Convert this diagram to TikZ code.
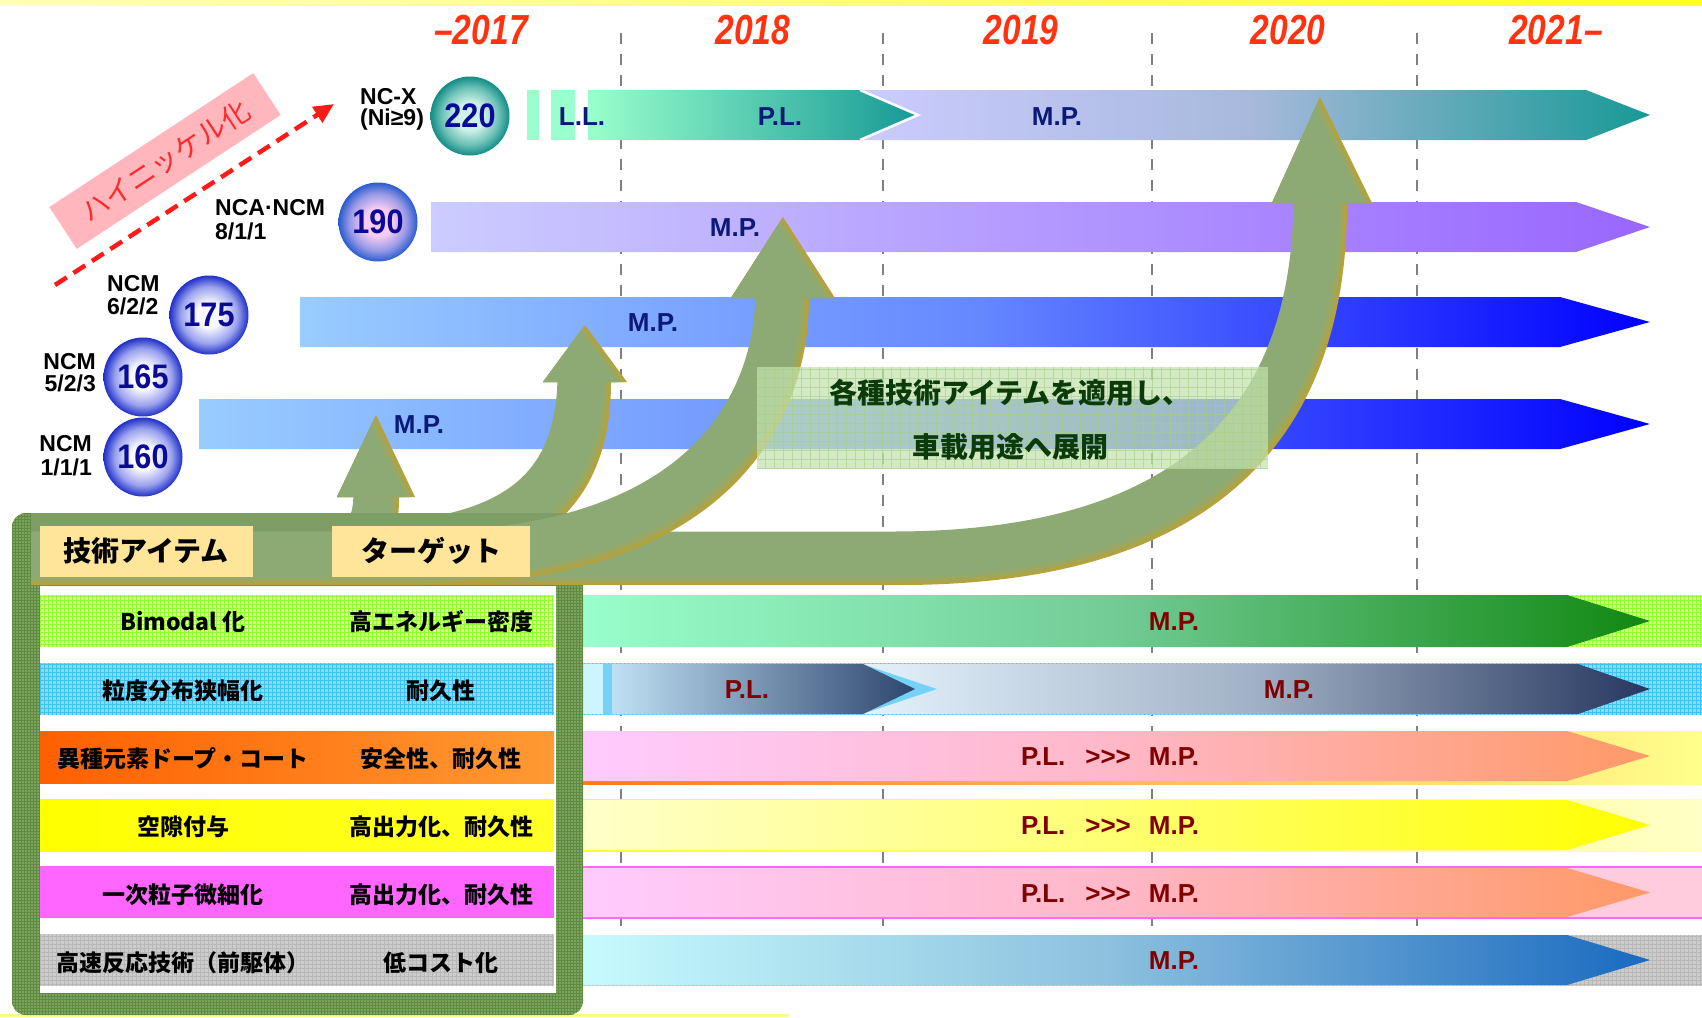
\documentclass[tikz,border=0pt]{standalone}
\usepackage{graphicx}
\usepackage{fontspec}
\setmainfont{Liberation Sans}
\newfontfamily\jp{Noto Sans CJK JP}
\usetikzlibrary{arrows.meta}

\definecolor{olv}{HTML}{8EAA74}
\definecolor{olvA}{HTML}{96A968}
\definecolor{olvB}{HTML}{A3A656}
\definecolor{gld}{HTML}{B4A23C}
\definecolor{frm}{HTML}{7DA35E}
\definecolor{frmline}{HTML}{5F8A42}
\definecolor{band}{HTML}{7E9E66}
\definecolor{tanbox}{HTML}{FFE59A}
\definecolor{yearred}{HTML}{FF3311}
\definecolor{navy}{HTML}{0B1A78}
\definecolor{numblue}{HTML}{0A0A96}
\definecolor{darkred}{HTML}{800000}
\definecolor{dashgray}{HTML}{808080}
\definecolor{mint}{HTML}{99FFCC}
\definecolor{lav}{HTML}{CCCCFF}
\definecolor{tealR}{HTML}{179996}
\definecolor{rA}{HTML}{A8B9DC}
\definecolor{purp}{HTML}{9966FF}
\definecolor{lblue}{HTML}{99CCFF}
\definecolor{mblue}{HTML}{6688FF}
\definecolor{dblue}{HTML}{0000FF}
\definecolor{pinkband}{HTML}{FFB6BC}
\definecolor{bandred}{HTML}{FF2B2B}
\definecolor{dashred}{HTML}{FF1A1A}
\definecolor{boxgreen}{HTML}{C3E2AE}
\definecolor{boxline}{HTML}{A5CE86}
\definecolor{boxtext}{HTML}{0B3B0B}
\definecolor{bL}{HTML}{E6F4FE}
\definecolor{bM}{HTML}{A2B2C6}
\definecolor{bR}{HTML}{27375F}
\definecolor{bPL}{HTML}{C8E2F4}
\definecolor{fL}{HTML}{C8FCFE}
\definecolor{fM}{HTML}{8CC0DE}
\definecolor{fR}{HTML}{1A6AC0}
\definecolor{aR}{HTML}{118811}
\definecolor{aM}{HTML}{72CC96}
\definecolor{pkL}{HTML}{FFCCFF}
\definecolor{pkM}{HTML}{FFB8C8}
\definecolor{pkR}{HTML}{FF9966}
\definecolor{magrow}{HTML}{FF66FF}
\definecolor{pkstrip}{HTML}{FFCCDD}
\definecolor{s220i}{HTML}{CDF0E8}
\definecolor{s220m}{HTML}{6EC2B8}
\definecolor{s220o}{HTML}{138C85}
\definecolor{s190i}{HTML}{F6CCF4}
\definecolor{s190m}{HTML}{9A9AE6}
\definecolor{s190o}{HTML}{2A5CCF}
\definecolor{sbi}{HTML}{F8F8FF}
\definecolor{sbm}{HTML}{9AA2EE}
\definecolor{sbo}{HTML}{2030C8}

\pgfdeclareradialshading{sph220}{\pgfpoint{0bp}{0bp}}{color(0bp)=(s220i); color(9bp)=(s220i); color(18bp)=(s220m); color(25bp)=(s220o); color(50bp)=(s220o)}
\pgfdeclareradialshading{sph190}{\pgfpoint{0bp}{0bp}}{color(0bp)=(s190i); color(9bp)=(s190i); color(18bp)=(s190m); color(25bp)=(s190o); color(50bp)=(s190o)}
\pgfdeclareradialshading{sphB}{\pgfpoint{0bp}{0bp}}{color(0bp)=(sbi); color(8bp)=(sbi); color(18bp)=(sbm); color(25bp)=(sbo); color(50bp)=(sbo)}

\newcommand\fs[1]{\fontsize{#1}{#1}\selectfont}
\newcommand\barrow[6]{\path[#1] (#2,#3) -- (#4,#3) -- (#6,{(#3+#5)/2}) -- (#4,#5) -- (#2,#5) -- cycle;}
\newcommand\gridrect[7]{\fill[#1] (#4,#5) rectangle (#6,#7);
  \begin{scope}\clip (#4,#5) rectangle (#6,#7);
  \draw[#2, line width=0.5pt, step=#3] (#4,#7) grid (#6,#5);\end{scope}}
\newcommand\shaft[2]{%
  \draw[line width=#1, gld] #2;
  \draw[line width=#1, olvB, shift={(-2.5,-2.5)}] #2;
  \draw[line width=#1, olvA, shift={(-5,-5)}] #2;
  \draw[line width=#1, olv, shift={(-7.5,-7.5)}] #2;}
\newcommand\ahead[3]{%
  \fill[gld] (#1) -- (#2) -- (#3) -- cycle;
  \begin{scope}
  \clip (#1) -- (#2) -- (#3) -- cycle;
  \fill[olvB, shift={(-3,0)}] (#1) -- (#2) -- (#3) -- cycle;
  \fill[olvA, shift={(-6,0)}] (#1) -- (#2) -- (#3) -- cycle;
  \fill[olv, shift={(-9,0)}] (#1) -- (#2) -- (#3) -- cycle;
  \end{scope}}
\newcommand\plmp{P.L.\hspace{20pt}>{}>{}>\hspace{18pt}M.P.}
\newcommand\num[1]{\scalebox{0.9}[1]{#1}}

\tikzset{
  yr/.style={font=\fs{42}\bfseries\itshape, text=yearred, inner sep=0},
  lbl/.style={font=\fs{23}\bfseries, inner sep=0, text=black},
  sph/.style={circle, minimum size=79pt, inner sep=0, font=\fs{34}\bfseries, text=numblue},
  toptxt/.style={font=\fs{26}\bfseries, text=navy, inner sep=0},
  lowtxt/.style={font=\fs{26}\bfseries, text=darkred, inner sep=0},
  tbl/.style={font=\jp\bfseries\fs{23}, inner sep=0},
  hdr/.style={font=\jp\bfseries\fs{28}, inner sep=0},
  vdash/.style={draw=dashgray, line width=1.8pt, dash pattern=on 11pt off 10pt},
}

\begin{document}
\begin{tikzpicture}[x=1pt,y=-1pt]
\useasboundingbox (0,0) rectangle (1702,1017);
\fill[white] (0,0) rectangle (1702,1017);
\shade[left color=yellow!25, right color=yellow!85] (0,0) rectangle (1702,5);
\fill[yellow!45] (0,1014) rectangle (789,1017);

% vertical dashed year lines
\foreach \x/\n in {621/a,883/b,1152/c,1417/d}{
  \coordinate (vt\n) at (\x,33); \coordinate (vb\n) at (\x,935);
  \draw[vdash] (vt\n) -- (vb\n);}

% years
\node[yr] (y17) at (481,30) {\scalebox{0.8}[1]{–2017}};
\node[yr] (y18) at (753,30) {\scalebox{0.8}[1]{2018}};
\node[yr] (y19) at (1021,30) {\scalebox{0.8}[1]{2019}};
\node[yr] (y20) at (1288,30) {\scalebox{0.8}[1]{2020}};
\node[yr] (y21) at (1556,30) {\scalebox{0.8}[1]{2021–}};

% ---- top bars ----
\fill[mint] (527,90) rectangle (539,140);
\fill[mint] (551,90) rectangle (575,140);
\barrow{left color=lav, right color=tealR, middle color=rA}{850}{90}{1586}{140}{1650}
\barrow{left color=mint, right color=tealR}{588}{90}{860}{140}{918}
\draw[white, line width=2.5pt] (860,90) -- (918,115) -- (860,140);
\barrow{left color=lav, right color=purp}{431}{202}{1576}{252}{1650}
\barrow{left color=lblue, right color=dblue, middle color=mblue}{300}{297}{1560}{347}{1650}
\barrow{left color=lblue, right color=dblue, middle color=mblue}{199}{399}{1560}{449}{1650}

% ---- lower rows: strips and bars ----
% row A
\gridrect{fill=green!30!yellow!45}{green!55!yellow!80}{4pt}{556}{595}{1702}{647}
\barrow{left color=mint, right color=aR, middle color=aM}{570}{595}{1567}{647}{1650}
% row B
\gridrect{fill=cyan!45}{cyan!75}{4pt}{556}{663}{1702}{715}
\fill[blue!20!cyan!20] (583,664) rectangle (603,714);
\barrow{left color=bL, right color=bR, middle color=bM}{850}{664}{1578}{714}{1650}
\barrow{fill=cyan!55}{603}{664}{862}{714}{937}
\barrow{left color=bPL, right color=bR, fill opacity=0.9}{612}{664}{863}{714}{915}
% row C
\shade[left color=orange!80!red!90, right color=yellow!45] (556,731) rectangle (1702,784);
\barrow{left color=pkL, right color=pkR, middle color=pkM}{570}{731}{1567}{781}{1650}
% row D
\shade[left color=yellow!90, right color=yellow!22] (556,799) rectangle (1702,851);
\barrow{left color=yellow!20, right color=yellow, middle color=yellow!55}{570}{800}{1567}{850}{1650}
% row E
\fill[pkstrip] (556,867) rectangle (1702,918);
\draw[magrow, line width=1.5pt] (556,867) -- (1702,867) (556,918) -- (1702,918);
\barrow{left color=pkL, right color=pkR, middle color=pkM}{570}{868}{1567}{917}{1650}
% row F
\gridrect{fill=black!20}{black!28}{4pt}{556}{935}{1702}{986}
\barrow{left color=fL, right color=fR, middle color=fM}{570}{935}{1567}{985}{1650}

% ---- green arrows behind frame ----
\shaft{38pt}{(320,552) .. controls (372,552) and (380,535) .. (380,497)}
\ahead{337,497}{415,497}{376,415}
\shaft{46pt}{(330,555) .. controls (477,555) and (588,530) .. (588,382)}
\ahead{543,382}{627,382}{585,325}

% ---- frame ----
\fill[frm, rounded corners=14pt] (12,513) rectangle (583,1015);
\begin{scope}
  \clip[rounded corners=14pt] (12,513) rectangle (583,1015);
  \draw[frmline, line width=0.5pt, step=3pt] (12,1015) grid (583,513);
\end{scope}
\fill[band] (31,545) -- (31,513) [rounded corners=12pt] -- (583,513) [sharp corners] -- (583,545) -- cycle;
\fill[white] (40,586) rectangle (556,993);

% ---- big arrows on top ----
\begin{scope}
  \clip (31,0) rectangle (1702,1017);
  \shaft{46pt}{(31,562) -- (900,562) .. controls (1239,562) and (1324,390) .. (1324,203)}
  \ahead{1272,203}{1372,203}{1320,97}
  \shaft{46pt}{(31,562) -- (420,562) .. controls (711,562) and (786,414) .. (786,298)}
  \ahead{731,298}{835,298}{783,217}
\end{scope}

% header boxes
\fill[tanbox] (40,526) rectangle (253,577);
\fill[tanbox] (332,526) rectangle (530,577);
\node[hdr] (h1) at (146,551) {技術アイテム};
\node[hdr] (h2) at (431,551) {ターゲット};

% table rows
\gridrect{fill=green!30!yellow!45}{green!55!yellow!80}{4pt}{40}{595}{554}{647}
\gridrect{fill=cyan!45}{cyan!75}{4pt}{40}{663}{554}{715}
\shade[left color=orange!75!red, right color=orange!80] (40,731) rectangle (554,783);
\shade[left color=yellow, right color=yellow!85] (40,799) rectangle (554,851);
\fill[magrow] (40,866) rectangle (554,918);
\gridrect{fill=black!20}{black!28}{4pt}{40}{934}{554}{986}

\node[tbl] (tA1) at (183,622) {Bimodal 化};
\node[tbl] (tA2) at (441,622) {高エネルギー密度};
\node[tbl] (tB1) at (183,691) {粒度分布狭幅化};
\node[tbl] (tB2) at (441,691) {耐久性};
\node[tbl] (tC1) at (183,759) {異種元素ドープ・コート};
\node[tbl] (tC2) at (441,759) {安全性、耐久性};
\node[tbl] (tD1) at (183,827) {空隙付与};
\node[tbl] (tD2) at (441,827) {高出力化、耐久性};
\node[tbl] (tE1) at (183,895) {一次粒子微細化};
\node[tbl] (tE2) at (441,895) {高出力化、耐久性};
\node[tbl] (tF1) at (183,963) {高速反応技術（前駆体）};
\node[tbl] (tF2) at (441,963) {低コスト化};

% bar labels
\node[toptxt] (ll) at (582,117) {L.L.};
\node[toptxt] (pl1) at (780,117) {P.L.};
\node[toptxt] (mp1) at (1057,117) {M.P.};
\node[toptxt] (mp2) at (735,228) {M.P.};
\node[toptxt] (mp3) at (653,323) {M.P.};
\node[toptxt] (mp4) at (419,425) {M.P.};
\node[lowtxt] (mpA) at (1174,622) {M.P.};
\node[lowtxt] (plB) at (747,690) {P.L.};
\node[lowtxt] (mpB) at (1289,690) {M.P.};
\node[lowtxt] (rC) at (1110,757) {\plmp};
\node[lowtxt] (rD) at (1110,826) {\plmp};
\node[lowtxt] (rE) at (1110,894) {\plmp};
\node[lowtxt] (mpF) at (1174,961) {M.P.};

% spheres
\node[sph, shading=sph220] (c220) at (470,116) {\num{220}};
\node[sph, shading=sph190] (c190) at (378,222) {\num{190}};
\node[sph, shading=sphB] (c175) at (209,315) {\num{175}};
\node[sph, shading=sphB] (c165) at (143,377) {\num{165}};
\node[sph, shading=sphB] (c160) at (143,457) {\num{160}};

% labels
\node[lbl, anchor=west] (l220a) at (360,97) {NC-X};
\node[lbl, anchor=west] (l220b) at (360,120) {(Ni≥9)};
\node[lbl, anchor=west] (l190a) at (215,208) {NCA·NCM};
\node[lbl, anchor=west] (l190b) at (215,231) {8/1/1};
\node[lbl, anchor=west] (l175a) at (107,284) {NCM};
\node[lbl, anchor=west] (l175b) at (107,306) {6/2/2};
\node[lbl, anchor=east] (l165a) at (96,362) {NCM};
\node[lbl, anchor=east] (l165b) at (96,383) {5/2/3};
\node[lbl, anchor=east] (l160a) at (92,444) {NCM};
\node[lbl, anchor=east] (l160b) at (92,467) {1/1/1};

% high nickel band and arrow
\node[rotate=33.3, fill=pinkband, minimum width=244pt, minimum height=50pt, inner sep=0,
      text=bandred, font=\jp\fs{28}] (hn) at (165,161) {ハイニッケル化};
\coordinate (rs) at (55,285);
\coordinate (re) at (334,104);
\draw[dashred, line width=4.5pt, dash pattern=on 14pt off 8pt,
      -{Triangle[length=20pt,width=18pt]}] (rs) -- (re);

% translucent text box
\fill[boxgreen, fill opacity=0.72] (757,367) rectangle (1268,469);
\begin{scope}
  \clip (757,367) rectangle (1268,469);
  \draw[boxline, line width=0.6pt, opacity=0.6, step=9pt] (757,469) grid (1268,367);
\end{scope}
\node[align=center, text=boxtext, font=\jp\bfseries\fontsize{28}{54}\selectfont, inner sep=0] (tb) at (1010,420)
  {各種技術アイテムを適用し、\\車載用途へ展開};
\end{tikzpicture}
\end{document}
